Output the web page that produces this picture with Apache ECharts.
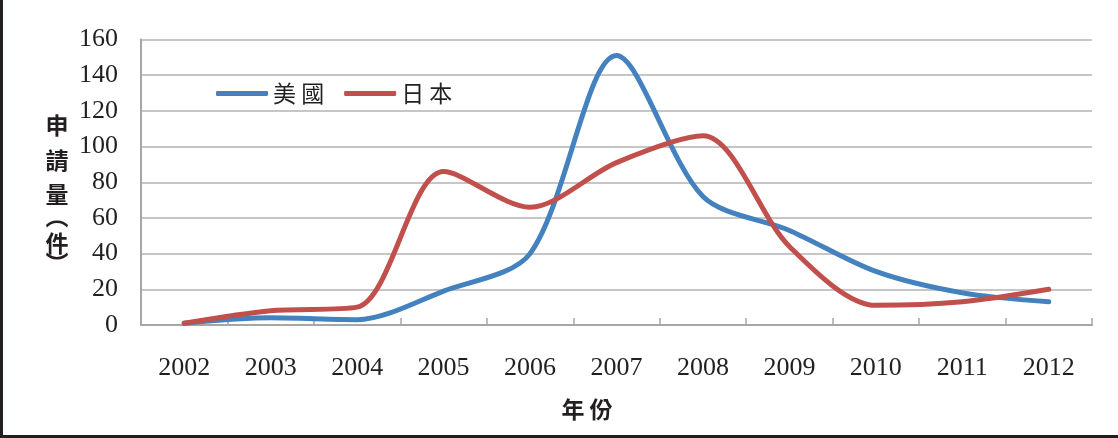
<!DOCTYPE html>
<html>
<head>
<meta charset="utf-8">
<script src="https://cdn.jsdelivr.net/npm/echarts@6/dist/echarts.min.js"></script>
<style>html,body{margin:0;padding:0;background:#fff;}#c{width:1118px;height:438px;}</style>
</head>
<body>
<div id="c"></div>
<script>
const categories = ['2002','2003','2004','2005','2006','2007','2008','2009','2010','2011','2012'];
const usValues = [1, 4, 3, 19, 40, 151, 72, 53, 30, 18, 13];
const jpValues = [1, 8, 10, 86, 66, 91, 106, 44, 11, 13, 20];
const yTicks = { min: 0, max: 160, interval: 20 };
const seriesNames = ['美國', '日本'];
const yNameChars = ['申','請','量','︵','件','︶'];
const xName = '年份';

const chart = echarts.init(document.getElementById('c'), null, {renderer: 'canvas'});
const serif = '"Liberation Serif", "Times New Roman", serif';
const cjk = '"Noto Sans CJK TC", "Noto Sans CJK SC", sans-serif';
const yNameY = [125, 160, 194, 216, 243, 263];

const graphics = yNameChars.map((ch, i) => ({
  type: 'text', x: 57, y: yNameY[i],
  style: { text: ch, fill: '#231f20', font: 'bold 23px ' + cjk, textAlign: 'center', textVerticalAlign: 'middle' }
}));
graphics.push({
  type: 'text', x: 587, y: 409,
  style: { text: xName.split('').join(' '), fill: '#231f20', font: 'bold 23px ' + cjk, textAlign: 'center', textVerticalAlign: 'middle' }
});
graphics.push({ type: 'line', shape: { x1: 1.5, y1: 0, x2: 1.5, y2: 438 }, style: { stroke: '#231f20', lineWidth: 3 } });
graphics.push({ type: 'line', shape: { x1: 0, y1: 436.5, x2: 1118, y2: 436.5 }, style: { stroke: '#231f20', lineWidth: 3 } });

chart.setOption({
  animation: false,
  backgroundColor: '#fff',
  grid: { left: 141, top: 39.5, width: 951, height: 285.5, containLabel: false },
  legend: {
    left: 211, top: 77,
    icon: 'roundRect',
    itemWidth: 52, itemHeight: 5, itemGap: 20,
    formatter: n => n.split('').join(' '),
    textStyle: { fontFamily: cjk, fontSize: 23, color: '#231f20' },
    data: seriesNames
  },
  xAxis: {
    type: 'category',
    data: categories,
    boundaryGap: true,
    axisLine: { lineStyle: { color: '#A6A6A6', width: 2 } },
    axisTick: { show: true, inside: true, length: 7, lineStyle: { color: '#A6A6A6', width: 1.5 } },
    axisLabel: { fontFamily: serif, fontSize: 26, color: '#231f20', margin: 30 }
  },
  yAxis: {
    type: 'value',
    min: yTicks.min, max: yTicks.max, interval: yTicks.interval,
    axisLine: { show: true, lineStyle: { color: '#A6A6A6', width: 2 } },
    axisTick: { show: false },
    axisLabel: { fontFamily: serif, fontSize: 26, color: '#231f20', margin: 23 },
    splitLine: { lineStyle: { color: '#B3B3B3', width: 1.5 } }
  },
  series: [
    { name: seriesNames[0], type: 'line', data: usValues, smooth: 0.3, symbol: 'none',
      lineStyle: { color: '#4382BE', width: 5, cap: 'round' }, itemStyle: { color: '#4382BE' } },
    { name: seriesNames[1], type: 'line', data: jpValues, smooth: 0.3, symbol: 'none',
      lineStyle: { color: '#C14F4C', width: 5, cap: 'round' }, itemStyle: { color: '#C14F4C' } }
  ],
  graphic: graphics
});
</script>
</body>
</html>
